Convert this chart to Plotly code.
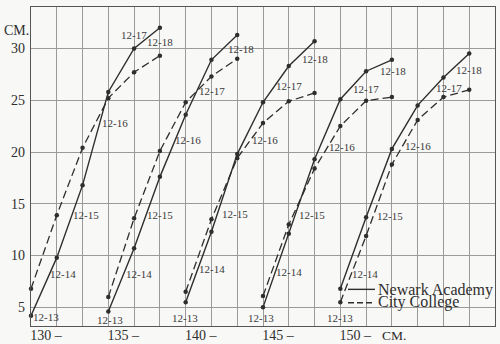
import plotly.graph_objects as go

# ---- data ----
AGES = ["12-13", "12-14", "12-15", "12-16", "12-17", "12-18"]
GROUPS = ["130 –", "135 –", "140 –", "145 –", "150 –"]

newark_130 = [4.2, 9.8, 16.8, 25.8, 30.0, 32.0]
newark_135 = [4.6, 10.7, 17.6, 23.6, 28.9, 31.3]
newark_140 = [5.5, 12.3, 19.8, 24.8, 28.3, 30.7]
newark_145 = [5.0, 12.1, 19.3, 25.1, 27.8, 28.9]
newark_150 = [6.8, 13.7, 20.3, 24.5, 27.2, 29.5]

city_130 = [6.8, 13.9, 20.4, 25.2, 27.7, 29.3]
city_135 = [6.0, 13.6, 20.1, 24.8, 27.3, 29.0]
city_140 = [6.5, 13.5, 19.4, 22.8, 24.9, 25.7]
city_145 = [6.1, 13.0, 18.4, 22.5, 24.95, 25.3]
city_150 = [5.5, 11.9, 18.8, 23.1, 25.3, 26.0]

Y_TICKS = [5, 10, 15, 20, 25, 30]

newark = [newark_130, newark_135, newark_140, newark_145, newark_150]
city = [city_130, city_135, city_140, city_145, city_150]

# ---- styling / label placement (pixel offsets from the solid point) ----
LABEL_DX = [[14.5, 6.7, 3.4, 6.7, 0, 0.6],
            [2, 4.9, 0.6, 2.8, 0.8, 3.7],
            [-0.7, 0.8, -1.8, 1.6, 0, 0.4],
            [-1.6, 0, -2.3, 1.6, 0, 0.8],
            [-0.4, -1.5, -2.3, 0.6, 5.3, 0]]
LABEL_DY = [[1.4, 16.2, 29.8, 30.7, -13.7, 14.5],
            [8, 25.8, 38, 25.6, 31.6, 13.8],
            [16, 37, 60, 38, 20.4, 17.6],
            [10.7, 38.3, 55.3, 47.9, 17.5, 11.6],
            [29.4, 56.6, 66.7, 40.7, 10.3, 16.8]]

SERIF = "Liberation Serif, DejaVu Serif, serif"
INK = "#2e2e2e"
GRID = "#9a9a9a"
BG = "#f8f8f6"
STEP = 3  # grid cells between successive height classes

fig = go.Figure()
for g in range(len(GROUPS)):
    xs = [g * STEP + a for a in range(len(AGES))]
    fig.add_trace(go.Scatter(x=xs, y=city[g], mode="lines+markers",
                             line=dict(color=INK, width=1.3, dash="8px,4px"),
                             marker=dict(color=INK, size=4.5),
                             cliponaxis=False, showlegend=False, name="City College"))
    fig.add_trace(go.Scatter(x=xs, y=newark[g], mode="lines+markers",
                             line=dict(color=INK, width=1.4),
                             marker=dict(color=INK, size=4.5),
                             cliponaxis=False, showlegend=False, name="Newark Academy"))

annotations = []
for g in range(len(GROUPS)):
    for a, lab in enumerate(AGES):
        annotations.append(dict(x=g * STEP + a, y=newark[g][a], text=lab, showarrow=False,
                                xshift=LABEL_DX[g][a], yshift=-LABEL_DY[g][a],
                                font=dict(family=SERIF, size=11, color="#3a3a3a")))

# axis unit annotations
annotations.append(dict(xref="paper", yref="paper", x=-0.062, y=0.927, xanchor="left",
                        yanchor="middle", text="CM.", showarrow=False,
                        font=dict(family=SERIF, size=14, color=INK)))
annotations.append(dict(xref="paper", yref="paper", x=(380 - 31) / 464, y=1 - (336 - 6.5) / 319.5,
                        xanchor="left", yanchor="middle", text="CM.", showarrow=False,
                        font=dict(family=SERIF, size=13.5, color=INK)))
# legend text
annotations.append(dict(xref="paper", yref="paper", x=(376 - 31) / 464, y=1 - (290 - 6.5) / 319.5,
                        xanchor="left", yanchor="middle", text="Newark Academy", showarrow=False,
                        font=dict(family=SERIF, size=16, color=INK)))
annotations.append(dict(xref="paper", yref="paper", x=(376 - 31) / 464, y=1 - (301.5 - 6.5) / 319.5,
                        xanchor="left", yanchor="middle", text="City College", showarrow=False,
                        font=dict(family=SERIF, size=16, color=INK)))

shapes = [
    dict(type="line", xref="paper", yref="paper",
         x0=(348 - 31) / 464, x1=(375 - 31) / 464,
         y0=1 - (289.3 - 6.5) / 319.5, y1=1 - (289.3 - 6.5) / 319.5,
         line=dict(color=INK, width=1.4)),
    dict(type="line", xref="paper", yref="paper",
         x0=(348 - 31) / 464, x1=(375 - 31) / 464,
         y0=1 - (302.7 - 6.5) / 319.5, y1=1 - (302.7 - 6.5) / 319.5,
         line=dict(color=INK, width=1.4, dash="6px,3px")),
]

n_cells = STEP * (len(GROUPS) - 1) + 6
tickvals = list(range(n_cells + 1))
ticktext = [GROUPS[v // STEP] if v % STEP == 0 and v // STEP < len(GROUPS) else "" for v in tickvals]

fig.update_layout(
    width=500, height=344,
    margin=dict(l=31, r=5, t=6.5, b=18, autoexpand=False),
    paper_bgcolor=BG, plot_bgcolor=BG,
    showlegend=False,
    annotations=annotations, shapes=shapes,
    xaxis=dict(range=[0, n_cells], tickmode="array", tickvals=tickvals, ticktext=ticktext,
               automargin=False,
               showgrid=True, gridcolor=GRID, gridwidth=1, zeroline=False,
               showline=True, mirror=True, linecolor="#555", linewidth=1.2,
               ticks="", ticklabelshift=15, ticklabelstandoff=-4,
               tickfont=dict(family=SERIF, size=14, color=INK)),
    yaxis=dict(range=[3.2, 34.0], tickmode="array", tickvals=Y_TICKS,
               ticktext=[str(v) for v in Y_TICKS],
               automargin=False,
               showgrid=True, gridcolor=GRID, gridwidth=1, zeroline=False,
               showline=True, mirror=True, linecolor="#555", linewidth=1.2,
               ticks="", ticklabelstandoff=2,
               tickfont=dict(family=SERIF, size=14, color=INK)),
)

fig.write_html("out.html")
